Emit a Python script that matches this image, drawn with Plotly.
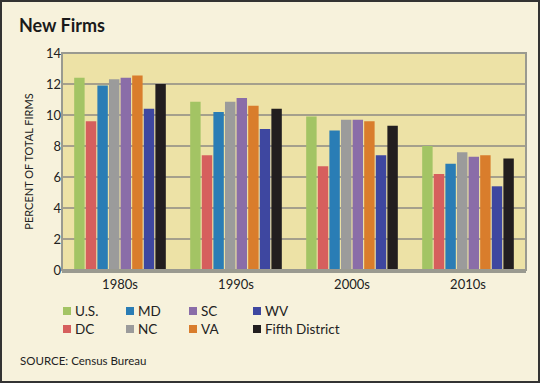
import plotly.graph_objects as go

decades = ["1980s", "1990s", "2000s", "2010s"]
series_names = ["U.S.", "DC", "MD", "NC", "SC", "VA", "WV", "Fifth District"]
us = [12.4, 10.85, 9.9, 8.0]
dc = [9.6, 7.4, 6.7, 6.2]
md = [11.9, 10.2, 9.0, 6.85]
nc = [12.3, 10.85, 9.7, 7.6]
sc = [12.4, 11.1, 9.7, 7.3]
va = [12.55, 10.6, 9.6, 7.4]
wv = [10.4, 9.1, 7.4, 5.4]
fifth = [12.0, 10.4, 9.3, 7.2]
y_ticks = [0, 2, 4, 6, 8, 10, 12, 14]

values = [us, dc, md, nc, sc, va, wv, fifth]
colors = ["#a3c464", "#d65f5d", "#2a7db5", "#9b9b9b", "#8a6da8", "#d97d2c", "#3e47a0", "#221e1f"]

W, H = 540, 383
ML, MR, MT, MB = 62, 14, 53, 113
PW, PH = W - ML - MR, H - MT - MB


def px(x):
    return (x - ML) / PW


def py(y):
    return (H - MB - y) / PH


font = "Lato, 'Open Sans', sans-serif"
fig = go.Figure()
for name, vals, col in zip(series_names, values, colors):
    fig.add_trace(go.Bar(x=decades, y=vals, name=name, marker_color=col,
                         marker_line_width=0, showlegend=False))

shapes = [
    dict(type="rect", xref="paper", yref="paper", x0=0, x1=1, y0=0, y1=1,
         line=dict(color="#9a9a90", width=2), layer="above"),
    dict(type="rect", xref="paper", yref="paper", x0=px(1), x1=px(W - 1),
         y0=py(H - 1), y1=py(1), line=dict(color="#333", width=2)),
]
annotations = [
    dict(text="<b>New Firms</b>", xref="paper", yref="paper", x=px(17), y=py(25),
         xanchor="left", yanchor="middle", showarrow=False,
         font=dict(size=18, family=font, color="#1a1a1a")),
    dict(text="SOURCE: Census Bureau", xref="paper", yref="paper", x=px(18),
         y=py(360), xanchor="left", yanchor="middle", showarrow=False,
         font=dict(size=11.5, family=font, color="#222")),
]

# legend: column-major, 2 rows x 4 columns
col_x = [63, 126, 189, 253]
row_y = [311, 329]
for i, (name, col) in enumerate(zip(series_names, colors)):
    c, r = i // 2, i % 2
    x0, yc = col_x[c], row_y[r]
    shapes.append(dict(type="rect", xref="paper", yref="paper",
                       x0=px(x0), x1=px(x0 + 8), y0=py(yc + 4), y1=py(yc - 4),
                       fillcolor=col, line=dict(width=0)))
    annotations.append(dict(text=name, xref="paper", yref="paper", x=px(x0 + 10),
                            y=py(yc), xanchor="left", yanchor="middle", showarrow=False,
                            font=dict(size=13.5, family=font, color="#222")))

fig.update_layout(
    width=W, height=H,
    margin=dict(l=ML, r=MR, t=MT, b=MB),
    paper_bgcolor="#f7f2dc",
    plot_bgcolor="#ede2a6",
    barmode="group", bargap=0.2, bargroupgap=0.1,
    font=dict(family=font, color="#222"),
    showlegend=False,
    xaxis=dict(showgrid=False, tickfont=dict(size=13), ticks="", showline=True,
               linecolor="#9a9a90", linewidth=3, mirror=False),
    yaxis=dict(range=[0, 14], tickvals=y_ticks, showgrid=True, gridcolor="#a5a08c",
               gridwidth=1.5, tickfont=dict(size=13), ticks="", zeroline=False,
               title=dict(text="PERCENT OF TOTAL FIRMS", font=dict(size=11), standoff=10),
               showline=False),
    shapes=shapes,
    annotations=annotations,
)

fig.write_html("out.html", config={"displayModeBar": False},
               post_script="document.body.style.margin='0';")
